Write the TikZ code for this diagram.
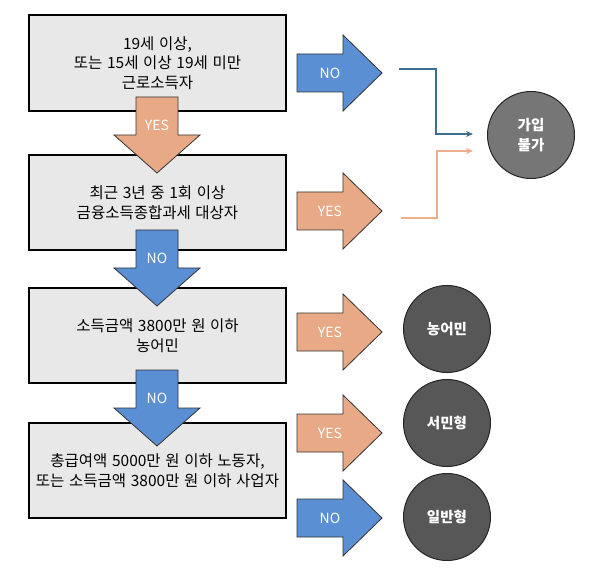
\documentclass[tikz,border=0pt]{standalone}
\usepackage{fontspec}
\setmainfont{Noto Sans CJK KR}
\usetikzlibrary{positioning,arrows.meta}
\definecolor{boxgray}{HTML}{E8E8E8}
\definecolor{yesorange}{HTML}{E8A987}
\definecolor{noblue}{HTML}{5B8FD3}
\definecolor{resultgray}{HTML}{575757}
\definecolor{failgray}{HTML}{767676}
\definecolor{nolink}{HTML}{3E6E8E}
\definecolor{yeslink}{HTML}{EDAE8C}
\newcommand{\boxfont}{\fontsize{15.5}{19.5}\selectfont\spaceskip=0.3em plus 0.1em\relax}
\tikzset{
  condbox/.style={draw=black,line width=1.3pt,fill=boxgray,minimum width=257pt,
    minimum height=96pt,align=center,font=\boxfont},
  result/.style={circle,draw=black!85,line width=1pt,fill=resultgray,minimum size=87pt,
    inner sep=0pt,text=white,align=center,font=\bfseries\fontsize{14.5}{19.5}\selectfont},
  tag/.style={text=white,font=\fontsize{14}{15}\selectfont},
  blk/.style={draw=black!80,line width=0.8pt},
  link/.style={line width=1.2pt,-{Stealth[length=7pt,width=6pt]}},
}
% down arrow: name, top y, fill, label
\newcommand{\downblk}[4]{%
\draw[blk,fill=#3] (136,#2) -- (178,#2) -- (178,#2+38) -- (200,#2+38) -- (157,#2+76)
  -- (114,#2+38) -- (136,#2+38) -- cycle;
\node[tag] (#1) at (157,#2+28) {#4};}
% right arrow: name, centre y, fill, label
\newcommand{\rightblk}[4]{%
\draw[blk,fill=#3] (297,#2-19) -- (343,#2-19) -- (343,#2-38) -- (382,#2) -- (343,#2+38)
  -- (343,#2+19) -- (297,#2+19) -- cycle;
\node[tag] (#1) at (330,#2) {#4};}
\begin{document}
\begin{tikzpicture}[x=1pt,y=-1pt]
\useasboundingbox[fill=white] (0,0) rectangle (600,572);
% conditions
\node[condbox] (age) at (157.5,63) {19세 이상,\\또는 15세 이상 19세 미만\\근로소득자};
\node[condbox,minimum height=95pt] (tax) at (157.5,202.5) {최근 3년 중 1회 이상\\금융소득종합과세 대상자};
\node[condbox,minimum height=95pt] (farm) at (157.5,335.5) {소득금액 3800만 원 이하\\농어민};
\node[condbox,minimum height=95pt] (low) at (157.5,470.5) {총급여액 5000만 원 이하 노동자,\\또는 소득금액 3800만 원 이하 사업자};
% down arrows
\downblk{ageyes}{97}{yesorange}{YES}
\downblk{taxno}{230}{noblue}{NO}
\downblk{farmno}{370}{noblue}{NO}
% right arrows
\rightblk{ageno}{73}{noblue}{NO}
\rightblk{taxyes}{211}{yesorange}{YES}
\rightblk{farmyes}{332}{yesorange}{YES}
\rightblk{lowyes}{433}{yesorange}{YES}
\rightblk{lowno}{518}{noblue}{NO}
% results
\node[result,fill=failgray] (fail) at (531,135) {가입\\불가};
\node[result] (farmer) at (447,329) {농어민};
\node[result] (saver) at (447,423) {서민형};
\node[result] (normal) at (447,517) {일반형};
% links to fail
\coordinate (nostart) at (399,69);
\coordinate (noend) at (473,134);
\coordinate (yesstart) at (401,218);
\coordinate (yesend) at (473,151);
\draw[link,nolink] (nostart) -- ++(37,0) |- (noend);
\draw[link,yeslink] (yesstart) -- ++(36,0) |- (yesend);
\end{tikzpicture}
\end{document}
